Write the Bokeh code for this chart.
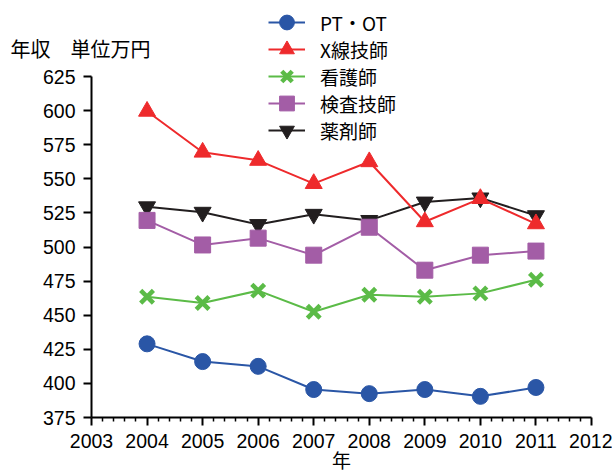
from bokeh.plotting import figure
from bokeh.models import Range1d, FixedTicker, Legend, LegendItem, Label
from bokeh.embed import file_html
from bokeh.resources import INLINE

# 年収（単位万円）の推移
years = [2004, 2005, 2006, 2007, 2008, 2009, 2010, 2011]
pt_ot = [429, 416, 412.5, 395.5, 392.5, 395.5, 390.5, 397]
xray = [599.5, 569.5, 563.5, 546.5, 562.5, 518.5, 535.5, 517]
nurse = [463.5, 459, 468, 452.5, 465, 463.5, 466, 476]
lab = [519.5, 501.5, 506.5, 494, 514.5, 483, 494, 497]
pharm = [529.5, 525.5, 516.5, 524, 519.5, 533, 536, 523]

series_names = ["PT・OT", "X線技師", "看護師", "検査技師", "薬剤師"]
x_ticks = list(range(2003, 2013))
y_ticks = list(range(375, 626, 25))

NUM_FONT = "'Liberation Sans', Arial, sans-serif"
JP_FONT = "'Noto Sans CJK JP', sans-serif"

W, H = 612, 473
# plot area edges in pixels (left, right, top, bottom)
AX_L, AX_R, AX_T, AX_B = 91, 591, 76, 417
x0, x1 = x_ticks[0], x_ticks[-1]
y0, y1 = y_ticks[0], y_ticks[-1]
kx = (x1 - x0) / (AX_R - AX_L)
ky = (y1 - y0) / (AX_B - AX_T)

# the frame spans the whole canvas; the axes are pinned inside it so the
# legend and the titles may sit anywhere on the page
p = figure(width=W, height=H, output_backend="svg", toolbar_location=None,
           x_range=Range1d(x0 - AX_L * kx, x1 + (W - AX_R) * kx),
           y_range=Range1d(y0 - (H - AX_B) * ky, y1 + AX_T * ky),
           min_border=0)
p.outline_line_color = None
p.xgrid.visible = False
p.ygrid.visible = False
p.background_fill_color = "white"
p.border_fill_color = "white"

minor = [x0 + i * 0.2 for i in range(46) if i % 5 != 0]
p.xaxis.ticker = FixedTicker(ticks=x_ticks, minor_ticks=minor)
p.yaxis.ticker = FixedTicker(ticks=y_ticks)
p.xaxis.fixed_location = y0
p.yaxis.fixed_location = x0
p.xaxis.bounds = (x0, x1)
p.yaxis.bounds = (y0, y1)

for ax in (p.xaxis[0], p.yaxis[0]):
    ax.axis_line_color = "black"
    ax.axis_line_width = 2
    ax.major_tick_line_color = "black"
    ax.major_tick_line_width = 2
    ax.major_tick_out = 8
    ax.major_tick_in = 0
    ax.major_label_text_color = "black"
    ax.major_label_text_font = NUM_FONT
    ax.major_label_text_font_size = "19.5px"
p.xaxis.minor_tick_line_color = "black"
p.xaxis.minor_tick_line_width = 1.5
p.xaxis.minor_tick_out = 4
p.xaxis.minor_tick_in = 0
p.xaxis.major_label_standoff = 8
p.yaxis.minor_tick_line_color = None
p.yaxis.major_label_standoff = 8

styles = [
    ("circle", "#2A56A6", 16, 1),
    ("triangle", "#EE2A2C", 17, 1),
    ("x", "#5BBB47", 18, 4.5),
    ("square", "#A35DA6", 16, 1),
    ("inverted_triangle", "#221E1F", 17, 1),
]
data = [pt_ot, xray, nurse, lab, pharm]

items = [None] * 5
# draw back to front so X線技師 and PT・OT sit on top
for i in [4, 3, 2, 1, 0]:
    marker, color, size, lw = styles[i]
    lr = p.line(years, data[i], line_color=color, line_width=2)
    sr = p.scatter(years, data[i], marker=marker, size=size,
                   fill_color=color, line_color=color, line_width=lw)
    items[i] = LegendItem(label=series_names[i], renderers=[lr, sr])

# one legend per entry, stacked 27px apart, so the markers keep full size
LEG_X, LEG_TOP, LEG_STEP, GLYPH = 268, 22, 27, 38
for i, item in enumerate(items):
    bottom = LEG_TOP + LEG_STEP * i + GLYPH / 2
    leg = Legend(items=[item], location=(LEG_X, H - bottom),
                 glyph_width=37, glyph_height=GLYPH, spacing=0,
                 label_standoff=15, padding=0, margin=0,
                 border_line_color=None, background_fill_alpha=0,
                 label_text_font=JP_FONT, label_text_font_size="19px",
                 label_text_color="black", label_text_baseline="middle")
    p.add_layout(leg, "center")

p.add_layout(Label(x=10, y=H - 48, x_units="screen", y_units="screen",
                   text="年収　単位万円", text_font=JP_FONT,
                   text_font_size="20px", text_color="black",
                   text_baseline="middle", text_align="left"))
p.add_layout(Label(x=341, y=H - 459, x_units="screen", y_units="screen",
                   text="年", text_font=JP_FONT,
                   text_font_size="19px", text_color="black",
                   text_baseline="middle", text_align="center"))

open("out.html", "w").write(file_html(p, INLINE))
